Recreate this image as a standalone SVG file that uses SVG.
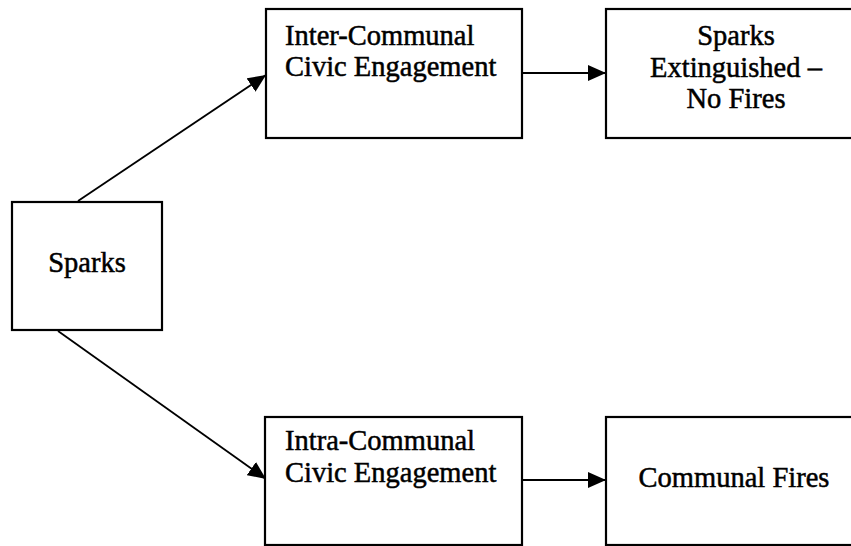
<svg xmlns="http://www.w3.org/2000/svg" width="851" height="546" viewBox="0 0 851 546">
<style>
.box{fill:#fff;stroke:#000;stroke-width:2.2}
.t{font-size:28.5px;fill:#000;stroke:#000;stroke-width:0.5}
.c{text-anchor:middle}
.edge{stroke:#000;stroke-width:1.8;fill:none}
</style>
<defs>
<marker id="ah" markerUnits="userSpaceOnUse" markerWidth="20" markerHeight="16" refX="18" refY="8" orient="auto">
<path d="M0,0 L18,8 L0,16 Z" fill="#000"/>
</marker>
</defs>
<rect width="851" height="546" fill="#fff"/>
<g id="connectors">
<line class="edge" x1="78" y1="201" x2="266" y2="75" marker-end="url(#ah)"/>
<line class="edge" x1="58" y1="331" x2="266" y2="479" marker-end="url(#ah)"/>
<line class="edge" x1="523" y1="73" x2="606" y2="73" marker-end="url(#ah)"/>
<line class="edge" x1="523" y1="480" x2="606" y2="480" marker-end="url(#ah)"/>
</g>
<g font-family="Liberation Serif, Tinos, DejaVu Serif, Noto Serif, serif">
<g id="sparks">
<rect class="box" x="12" y="202" width="150" height="128"/>
<text class="t c" x="87" y="272">Sparks</text>
</g>
<g id="inter">
<rect class="box" x="266" y="9" width="256" height="129"/>
<text class="t" x="285" y="45">Inter-Communal</text>
<text class="t" x="285" y="76">Civic Engagement</text>
</g>
<g id="extinguished">
<rect class="box" x="606" y="9" width="270" height="129"/>
<text class="t c" x="736" y="45">Sparks</text>
<text class="t c" x="736" y="77">Extinguished –</text>
<text class="t c" x="736" y="108">No Fires</text>
</g>
<g id="intra">
<rect class="box" x="265" y="417" width="257" height="128"/>
<text class="t" x="285" y="450">Intra-Communal</text>
<text class="t" x="285" y="482">Civic Engagement</text>
</g>
<g id="fires">
<rect class="box" x="606" y="417" width="270" height="128"/>
<text class="t c" x="734" y="487">Communal Fires</text>
</g>
</g>
</svg>
